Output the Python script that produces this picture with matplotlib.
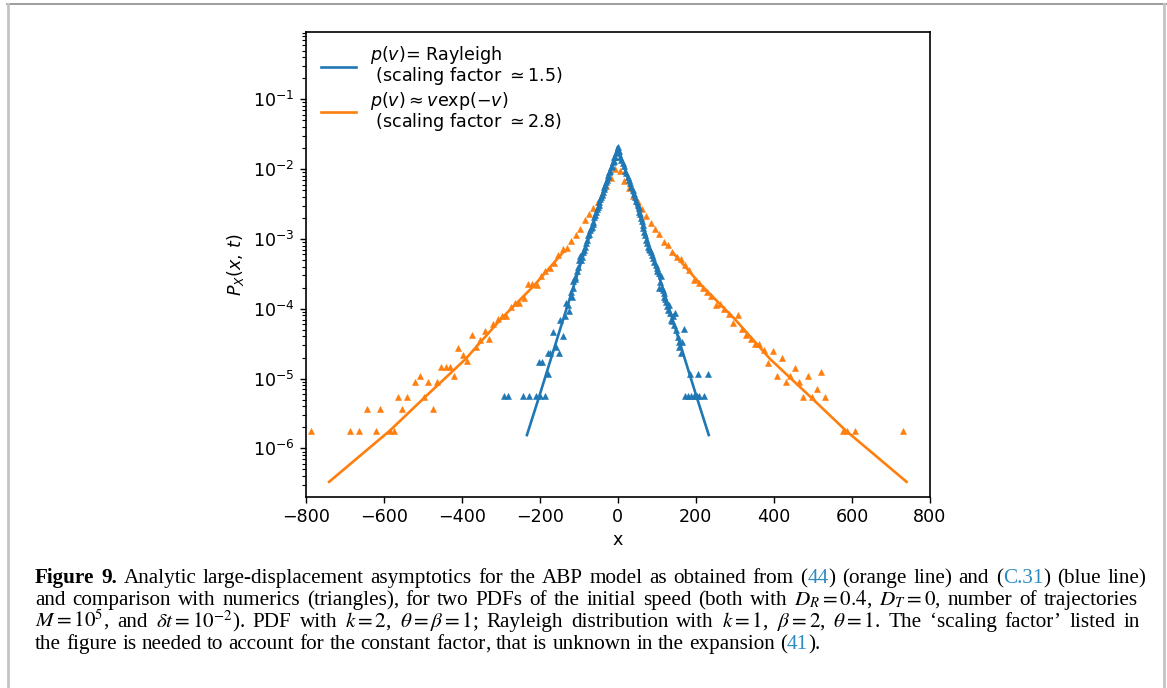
import numpy as np
import matplotlib
matplotlib.use("Agg")
import matplotlib.pyplot as plt
from matplotlib.lines import Line2D

# ---------------- data ----------------
# analytic curves
blue_line_x = [-233, -200, -150, -100, -50, 0, 50, 100, 150, 200, 233]
blue_line_y = [1.55e-6, 5.9e-6, 4.68e-5, 3.63e-4, 2.75e-3, 2.09e-2,
               2.75e-3, 3.63e-4, 4.68e-5, 5.9e-6, 1.55e-6]

orange_line_x = [-740, -585, -495, -390, -300, -215, -140,
                 140, 215, 300, 390, 495, 585, 740]
orange_line_y = [3.31e-7, 1.78e-6, 5.37e-6, 1.91e-5, 7.08e-5, 2.14e-4, 6.46e-4,
                 6.46e-4, 2.14e-4, 7.08e-5, 1.91e-5, 5.37e-6, 1.78e-6, 3.31e-7]

# numerics (triangles): x and log10 of P
orange_pts_x = [-787.5, -687.6, -664.5, -642.4, -619.3, -609.0, -585.1, -574.9,
                -563.8, -552.7, -541.6, -519.4, -508.3, -497.2, -486.1, -475.0,
                -463.9, -452.8, -441.7, -430.6, -419.5, -408.5, -397.4, -386.3,
                -374.3, -363.2, -352.1, -341.0, -329.9, -318.8, -307.7, -296.6,
                -285.5, -274.4, -263.3, -252.2, -241.1, -230.0, -218.9, -207.8,
                -196.7, -185.6, -174.5, -163.4, -152.3, -141.2, -130.1, -119.0,
                -107.1, -96.0, -84.9, -73.8, -62.7, -51.6, -40.5, -29.4, -18.3,
                -6.4,
                5.6, 16.6, 28.6, 39.7, 50.8, 61.9, 73.0, 84.1, 95.2, 106.3,
                117.4, 128.5, 139.6, 150.7, 161.8, 172.9, 183.1, 195.9, 207.0,
                217.2, 228.3, 238.6, 251.4, 261.6, 272.7, 283.8, 295.8, 307.7,
                318.0, 329.1, 340.2, 351.3, 362.4, 373.4, 384.6, 396.5, 408.5,
                419.5, 430.6, 441.7, 452.8, 463.9, 475.0, 487.0, 497.2, 509.2,
                520.3, 531.4, 575.8, 586.9, 609.0, 731.1]
orange_pts_logp = [-5.752, -5.752, -5.752, -5.441, -5.752, -5.441, -5.752, -5.752,
                   -5.269, -5.441, -5.269, -5.045, -4.964, -5.269, -5.045, -5.441,
                   -5.045, -4.840, -4.840, -4.840, -4.964, -4.567, -4.663, -4.744,
                   -4.381, -4.544, -4.448, -4.319, -4.439, -4.224, -4.152, -4.099,
                   -4.099, -3.980, -3.913, -3.913, -3.851, -3.646, -3.646, -3.660,
                   -3.531, -3.455, -3.421, -3.350, -3.230, -3.149, -3.135, -3.025,
                   -2.944, -2.863, -2.729, -2.648, -2.552, -2.466, -2.356, -2.242,
                   -2.132, -2.003,
                   -2.022, -2.165, -2.266, -2.380, -2.466, -2.571, -2.672, -2.767,
                   -2.853, -2.929, -3.039, -3.087, -3.192, -3.254, -3.292, -3.374,
                   -3.445, -3.588, -3.636, -3.698, -3.756, -3.813, -3.947, -3.932,
                   -4.009, -4.080, -4.200, -4.090, -4.286, -4.376, -4.434, -4.510,
                   -4.510, -4.591, -4.782, -4.601, -4.964, -4.706, -5.045, -4.964,
                   -4.844, -5.045, -5.269, -4.964, -5.269, -5.145, -4.902, -5.269,
                   -5.752, -5.752, -5.752, -5.752]

blue_pts_x = [-290.7, -282.1, -242.0, -228.3, -209.6, -199.3, -186.5, -179.7,
              -201.0, -194.2, -179.7, -173.7, -151.5, -165.2, -141.3, -158.3,
              -147.2, -132.7, -124.2, -118.2, -114.0, -108.8, -102.9, -98.6,
              -91.8, -88.3, -83.2, -79.8, -76.4, -70.4, -66.2, -62.7, -60.2,
              -55.9, -51.6, -47.4, -43.1, -38.8, -34.6, -30.3, -26.0, -21.8,
              -17.5, -13.2, -9.0, -3.0, 0.0,
              -4.5, -7.5, -11.0, -15.0, -19.5, -24.0, -28.0, -32.5, -36.5, -41.0,
              -45.0, -49.5, -53.5, -58.0, -64.5, -68.0, -73.0, -81.5, -86.0,
              -94.0, -96.5, -105.0, -111.0, -116.0, -121.0, -128.0, -136.0,
              5.6, 12.4, 19.2, 25.2, 31.2, 38.0, 44.8, 50.8, 55.1, 59.3, 63.6,
              67.9, 72.1, 76.4, 82.4, 87.5, 93.5, 99.4, 104.6, 110.5, 106.3,
              114.8, 119.1, 123.4, 130.2, 127.6, 147.2, 136.1, 144.7, 170.3,
              157.5, 164.3, 157.5, 161.8, 184.8, 206.1, 230.0, 172.9, 178.8,
              187.4, 195.9, 201.9, 208.7, 221.5,
              2.5, 9.0, 15.5, 22.0, 28.0, 34.5, 41.5, 47.5, 53.0, 57.0, 61.5,
              65.5, 70.0, 74.0, 79.0, 85.0, 90.5, 96.5, 101.5, 108.0, 112.0,
              117.0, 121.0, 125.0, 133.0, 139.0, 142.0, 150.0, 153.0]
blue_pts_logp = [-5.246, -5.246, -5.246, -5.246, -5.246, -5.246, -5.246, -4.940,
                 -4.763, -4.763, -4.630, -4.630, -4.630, -4.338, -4.391, -4.544,
                 -4.162, -3.923, -4.033, -3.827, -3.603, -3.541, -3.397, -3.302,
                 -3.264, -3.183, -3.111, -3.015, -2.944, -2.872, -2.824, -2.753,
                 -2.681, -2.609, -2.538, -2.466, -2.395, -2.323, -2.251, -2.180,
                 -2.108, -2.036, -1.965, -1.893, -1.822, -1.750, -1.680,
                 -1.77, -1.83, -1.88, -1.95, -2.03, -2.09, -2.16, -2.23, -2.29, -2.37,
                 -2.43, -2.51, -2.57, -2.66, -2.79, -2.84, -2.93, -3.06, -3.16,
                 -3.30, -3.25, -3.46, -3.58, -3.70, -3.76, -3.95, -4.10,
                 -1.822, -1.917, -2.022, -2.108, -2.204, -2.299, -2.395, -2.514,
                 -2.609, -2.705, -2.800, -2.896, -3.015, -3.111, -3.159, -3.230,
                 -3.326, -3.421, -3.493, -3.531, -3.708, -3.732, -3.827, -3.899,
                 -3.947, -4.018, -4.066, -4.162, -4.233, -4.290, -4.472, -4.472,
                 -4.544, -4.639, -4.935, -4.935, -4.935, -5.246, -5.246, -5.246,
                 -5.246, -5.246, -5.246, -5.246,
                 -1.74, -1.87, -1.96, -2.06, -2.15, -2.25, -2.35, -2.45, -2.56,
                 -2.65, -2.74, -2.84, -2.95, -3.06, -3.14, -3.19, -3.28, -3.37,
                 -3.46, -3.62, -3.70, -3.78, -3.86, -3.96, -4.06, -4.18, -4.10,
                 -4.30, -4.40]

xticks = [-800, -600, -400, -200, 0, 200, 400, 600, 800]
label_blue = "$p(v)$= Rayleigh\n (scaling factor $\\simeq 1.5$)"
label_orange = "$p(v) \\approx v\\exp(-v)$\n (scaling factor $\\simeq 2.8$)"

BLUE = "#1f77b4"
ORANGE = "#ff7f0e"
LINKBLUE = "#2b8ac0"

# ---------------- figure ----------------
W, H = 1167, 688
fig = plt.figure(figsize=(W / 100, H / 100), dpi=100)
fig.patch.set_facecolor("white")

ax = fig.add_axes([305.7 / W, 1 - 496.7 / H, (930 - 305.7) / W, (496.7 - 32) / H])
ax.set_yscale("log")

ax.plot(blue_line_x, blue_line_y, color=BLUE, lw=1.9, label=label_blue, zorder=3)
ax.plot(orange_line_x[:7], orange_line_y[:7], color=ORANGE, lw=1.9,
        label=label_orange, zorder=3)
ax.plot(orange_line_x[7:], orange_line_y[7:], color=ORANGE, lw=1.9, zorder=3)

ax.plot(orange_pts_x, np.power(10.0, orange_pts_logp), ls="none", marker="^",
        ms=4.4, mew=0.4, color=ORANGE, zorder=2)
ax.plot(blue_pts_x, np.power(10.0, blue_pts_logp), ls="none", marker="^",
        ms=4.4, mew=0.4, color=BLUE, zorder=4)

ax.set_xlim(-800, 800)
ax.set_ylim(10 ** -6.693, 10 ** -0.036)
ax.set_xticks(xticks)
ax.set_xticklabels([f"{t:d}".replace("-", "\u2212") for t in xticks])

ax.tick_params(axis="both", which="major", labelsize=12.6, length=4.5, width=1.0)
ax.tick_params(axis="both", which="minor", length=2.6, width=0.8)
for s in ax.spines.values():
    s.set_linewidth(1.2)

ax.set_xlabel("x", fontsize=12.6, labelpad=4)
ax.set_ylabel("$P_X(x,\\,t)$", fontsize=12.6, labelpad=5)

leg = ax.legend(loc="upper left", bbox_to_anchor=(0.0135, 0.989), borderaxespad=0.0,
                frameon=False, fontsize=12.6, handlelength=2.0,
                labelspacing=0.15)
for t in leg.get_texts():
    t.set_linespacing(0.95)

# ---------------- frame of the page ----------------
fig.add_artist(Line2D([7 / W, 1.0], [1 - 4 / H, 1 - 4 / H], color="#8c8c8c", lw=1.2))
fig.add_artist(Line2D([7.5 / W, 7.5 / W], [0, 1 - 4 / H], color="#c4c4c4", lw=2.0))
fig.add_artist(Line2D([1163.5 / W, 1163.5 / W], [0, 1 - 4 / H], color="#c4c4c4", lw=2.0))

# ---------------- caption ----------------
K = "black"
cap_lines = [
    [[("Figure", K, "bold")], [("9.", K, "bold")], [("Analytic", K, "normal")],
     [("large-displacement", K, "normal")], [("asymptotics", K, "normal")],
     [("for", K, "normal")], [("the", K, "normal")], [("ABP", K, "normal")],
     [("model", K, "normal")], [("as", K, "normal")], [("obtained", K, "normal")],
     [("from", K, "normal")], [("(", K, "normal"), ("44", LINKBLUE, "normal"), (")", K, "normal")],
     [("(orange", K, "normal")], [("line)", K, "normal")], [("and", K, "normal")],
     [("(", K, "normal"), ("C.31", LINKBLUE, "normal"), (")", K, "normal")],
     [("(blue", K, "normal")], [("line)", K, "normal")]],
    [[(w, K, "normal")] for w in
     ["and", "comparison", "with", "numerics", "(triangles),", "for", "two", "PDFs",
      "of", "the", "initial", "speed", "(both", "with", "$D_R = 0.4$,", "$D_T = 0$,",
      "number", "of", "trajectories"]],
    [[(w, K, "normal")] for w in
     ["$M = 10^5$,", "and", "$\\delta t = 10^{-2}$).", "PDF", "with", "$k=2$,",
      "$\\theta = \\beta = 1$;", "Rayleigh", "distribution", "with", "$k=1$,",
      "$\\beta=2$,", "$\\theta=1$.", "The", "\u2018scaling", "factor\u2019", "listed", "in"]],
    [[(w, K, "normal")] for w in
     ["the", "figure", "is", "needed", "to", "account", "for", "the", "constant"]]
    + [[("factor", K, "normal"), (",", K, "normal")]]
    + [[(w, K, "normal")] for w in ["that", "is", "unknown", "in", "the", "expansion"]]
    + [[("(", K, "normal"), ("41", LINKBLUE, "normal"), (").", K, "normal")]],
]
cap_right = [1146, 1138, 1140, None]
cap_base = [583, 605, 627, 649]
cap_left = 35
cap_fs = 15.2
SERIF = "Liberation Serif"

renderer = fig.canvas.get_renderer()


def make_word(word, x, ybase):
    arts = []
    cx = x
    for txt, col, wt in word:
        t = fig.text(cx / W, 1 - ybase / H, txt, color=col, fontsize=cap_fs,
                     family=SERIF, weight=wt, va="baseline", ha="left",
                     math_fontfamily="stix")
        wpx = t.get_window_extent(renderer).width
        arts.append(t)
        cx += wpx
    return arts, cx - x


p1 = fig.text(0, 0, "a a", fontsize=cap_fs, family=SERIF)
p2 = fig.text(0, 0, "aa", fontsize=cap_fs, family=SERIF)
space_w = p1.get_window_extent(renderer).width - p2.get_window_extent(renderer).width
p1.remove()
p2.remove()

for words, right, yb in zip(cap_lines, cap_right, cap_base):
    placed = []
    x = cap_left
    for wd in words:
        arts, wpx = make_word(wd, x, yb)
        placed.append((arts, wpx))
        x += wpx + space_w
    if right is not None and len(placed) > 1:
        total = sum(p[1] for p in placed)
        gap = (right - cap_left - total) / (len(placed) - 1)
        x = cap_left
        for arts, wpx in placed:
            x0 = arts[0].get_position()[0] * W
            for a in arts:
                ox = a.get_position()[0] * W
                a.set_x((x + (ox - x0)) / W)
            x += wpx + gap

fig.savefig("out.png", dpi=100, facecolor="white")
